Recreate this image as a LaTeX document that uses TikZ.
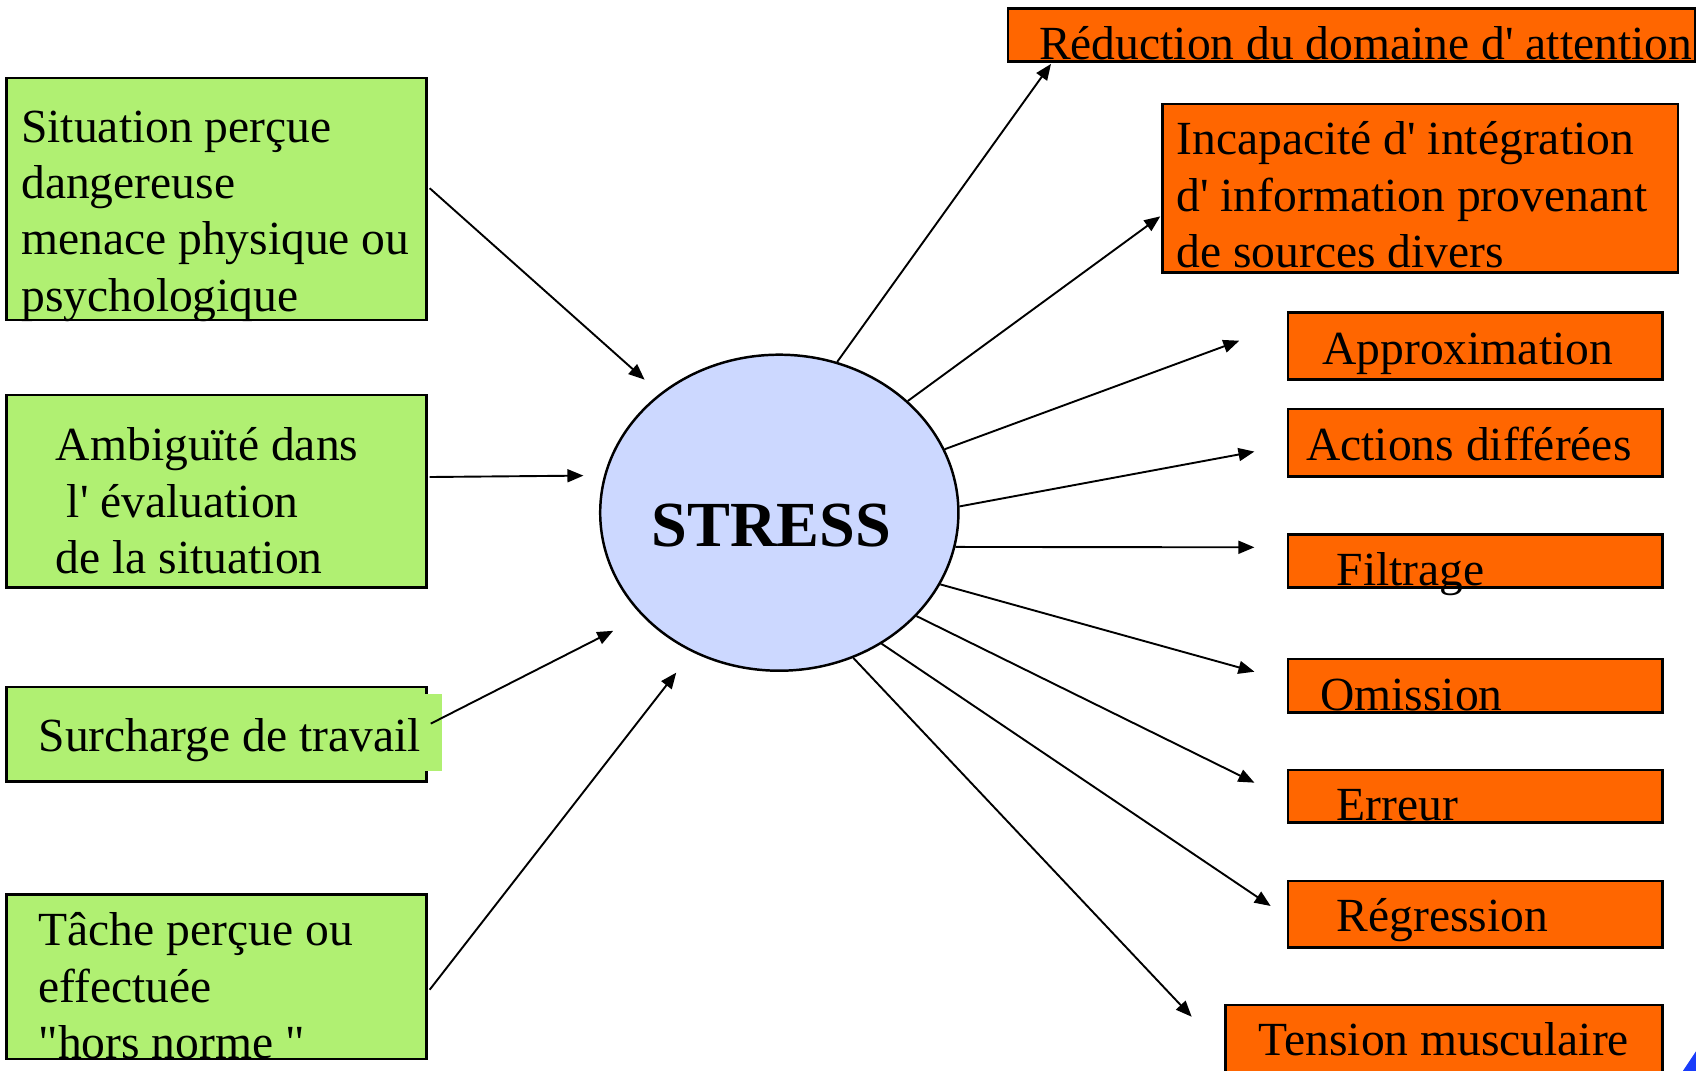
\documentclass[tikz,border=0pt]{standalone}
\usepackage{fontspec}
\setmainfont{Liberation Serif}
\usetikzlibrary{arrows.meta,calc,shapes.geometric}
\definecolor{vert}{RGB}{176,240,114}
\definecolor{orng}{RGB}{255,102,0}
\definecolor{bleu}{RGB}{204,216,255}
\definecolor{coin}{RGB}{25,60,250}
\newcommand{\apo}{\textquotesingle}

\begin{document}
\begin{tikzpicture}[>={Triangle[length=4.2pt,width=3.4pt]},x=0.01cm,y=-0.01cm]
\tikzset{gbox/.style={draw,fill=vert,line width=0.65pt,inner sep=0,minimum width=3.88cm},obox/.style={draw,fill=orng,line width=0.65pt,inner sep=0,minimum width=3.46cm},txt/.style={anchor=north west,inner sep=0,align=left,font=\fontsize{12.5}{14.8}\selectfont},arr/.style={->,line width=0.5pt}}
\useasboundingbox (0,0) rectangle (1568,990); \clip (0,0) rectangle (1568,990);
% causes
\node[gbox,minimum height=2.24cm] (s1) at (200,184) {}; \node[gbox,minimum height=1.78cm] (s2) at (200,454) {};
\node[gbox,minimum height=0.875cm] (s3) at (200,678.7) {}; \fill[vert] (388,641.6) rectangle (409,712.5);
\node[gbox,minimum height=1.52cm] (s4) at (200,903) {};
\node[txt] (t1) at (19,94.5) {\strut Situation perçue\\dangereuse\\menace physique ou\\psychologique};
\node[txt] (t2) at (51,388.8) {\strut Ambiguïté dans\\\hspace*{0.23em}l\apo{} évaluation\\de la situation};
\node[txt] (t3) at (35,657.5) {\strut Surcharge de travail};
\node[txt] (t4) at (35,837.2) {\strut Tâche perçue ou\\effectuée\\\textquotedbl hors norme \textquotedbl};
% centre
\node[ellipse,draw,fill=bleu,line width=0.65pt,minimum width=3.31cm,minimum height=2.92cm,inner sep=0,font=\fontsize{16.9}{20}\selectfont\bfseries,text height=0.628cm] (st) at (720.5,474) {\hspace*{-0.15cm}STRESS};
% effets
\node[obox,minimum width=6.35cm,minimum height=0.493cm] (r1) at (1249.5,32.3) {}; \node[obox,minimum width=4.76cm,minimum height=1.56cm] (r2) at (1313,174) {};
\node[obox,minimum height=0.62cm] (r3) at (1364,320) {}; \node[obox,minimum height=0.623cm] (r4) at (1364,409.5) {};
\node[obox,minimum height=0.49cm] (r5) at (1364,518.5) {}; \node[obox,minimum height=0.493cm] (r6) at (1364,634) {};
\node[obox,minimum height=0.486cm] (r7) at (1364,736.3) {}; \node[obox,minimum height=0.615cm] (r8) at (1364,845.2) {};
\node[obox,minimum width=4.04cm,minimum height=0.708cm] (r9) at (1335,964.6) {};
\node[txt] (u1) at (960,18.3) {\strut Réduction du domaine d\apo{} attention};
\node[txt] (u2) at (1087,105.9) {\strut Incapacité d\apo{} intégration\\d\apo{} information provenant\\de sources divers};
\node[txt] (u3) at (1222,299.4) {\strut Approximation}; \node[txt] (u4) at (1207,388.8) {\strut Actions différées};
\node[txt] (u5) at (1235,504.4) {\strut Filtrage}; \node[txt] (u6) at (1220,619.3) {\strut Omission};
\node[txt] (u7) at (1235,721.6) {\strut Erreur}; \node[txt] (u8) at (1235,824) {\strut Régression};
\node[txt] (u9) at (1163,938.9) {\strut Tension musculaire};
\fill[coin] (1556,990) -- (1568,972) -- (1568,990) -- cycle;
% fleches
\draw[arr,shorten >=0.19cm] ($(s1.east)+(2,-10)$) -- (st.135); \draw[arr,shorten >=0.19cm] ($(s2.east)+(2,-13)$) -- (st.168.4);
\draw[arr,shorten >=0.30cm] ($(s3.east)+(3,-9.7)$) -- (st.217.6); \draw[arr,shorten >=0.24cm] ($(s4.east)+(2,12)$) -- (st.238.5);
\draw[arr] (st.69) -- ($(r1.south west)+(41,1)$); \draw[arr] (st.41.6) -- ($(r2.west)+(-1,26)$);
\draw[arr] (st.21.3) -- ($(r3.west)+(-44,-5)$); \draw[arr] (st.2.7) -- ($(r4.west)+(-30,8)$);
\draw[arr] (st.-11.4) -- ($(r5.west)+(-30,-12.5)$); \draw[arr] (st.-24.6) -- ($(r6.west)+(-30,-13)$);
\draw[arr] (st.-37.8) -- ($(r7.west)+(-30,-12.7)$); \draw[arr] (st.-52.1) -- ($(r8.west)+(-15,-7.6)$);
\draw[arr] (st.-63.8) -- ($(r9.west)+(-30,-24.6)$);
\end{tikzpicture}
\end{document}
